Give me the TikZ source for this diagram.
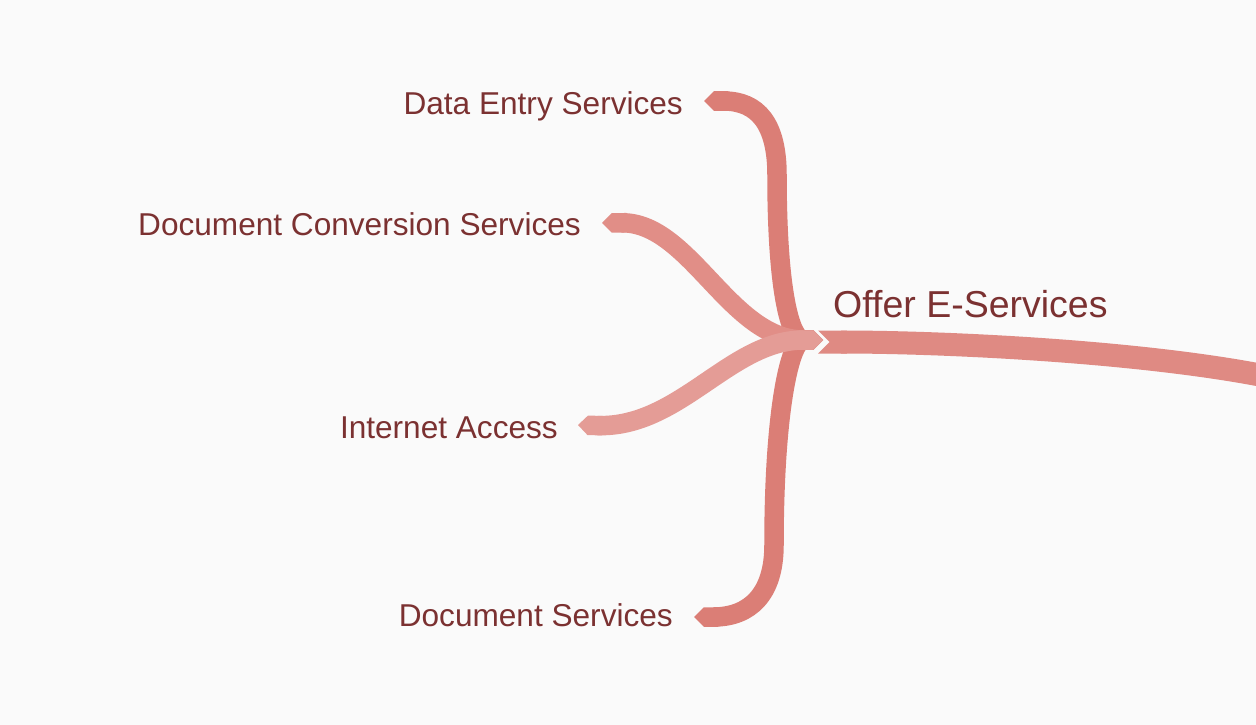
\documentclass[tikz,border=0pt]{standalone}
\usepackage{fontspec}
\setmainfont{Liberation Sans}
\usetikzlibrary{arrows.meta,calc}
\definecolor{paper}{HTML}{FAFAFA}
\definecolor{labelink}{HTML}{7B3131}
\definecolor{stem}{HTML}{DB7E76}
\definecolor{twig}{HTML}{E18E87}
\definecolor{twiglight}{HTML}{E49C96}
\definecolor{trunk}{HTML}{DF8A83}
\tikzset{
  leaf/.style={font=\fontsize{31.6}{38}\selectfont,text=labelink,inner sep=0pt,anchor=base east},
  topic/.style={leaf,font=\fontsize{37.5}{45}\selectfont,anchor=base west},
  branch/.style={line width=19.5pt,draw=stem,{Triangle Cap}-{Triangle Cap}},
  trunkline/.style={line width=23pt,draw=trunk,{Triangle Cap[reversed]}-},
}

\begin{document}
\begin{tikzpicture}[x=1pt,y=-1pt]
  \useasboundingbox (0,0) rectangle (1256,725);
  \fill[paper] (0,0) rectangle (1256,725);

  \node[leaf] (entry) at (683,114) {Data Entry Services};
  \node[leaf] (convert) at (581,235) {Document Conversion Services};
  \node[leaf] (net) at (558,438) {Internet Access};
  \node[leaf] (docs) at (673,626) {Document Services};
  \node[topic] (offer) at (833,317) {Offer E-Services};
  \coordinate (hub) at (823,340);
  \coordinate (root) at (818,342);
  \coordinate (rim) at (1275,378);

  % the two long stems, then the shorter twigs on top
  \draw[branch] (hub) .. controls (790,340) and (777,290) .. (777,175)
    .. controls (777,124) and (758,101) .. ($(entry.base east)+(21,-13)$);
  \draw[branch] (hub) .. controls (790,340) and (774,410) .. (774,545)
    .. controls (774,594) and (750,617) .. ($(docs.base east)+(21,-9)$);
  \draw[branch,draw=twig] (hub) .. controls (730,340) and (690,222) .. ($(convert.base east)+(21,-12)$);
  \draw[branch,draw=twiglight] (hub) .. controls (730,340) and (680,428) .. ($(net.base east)+(20,-13)$);

  \draw[trunkline] (root) .. controls (950,342) and (1150,352) .. (rim);
\end{tikzpicture}
\end{document}
